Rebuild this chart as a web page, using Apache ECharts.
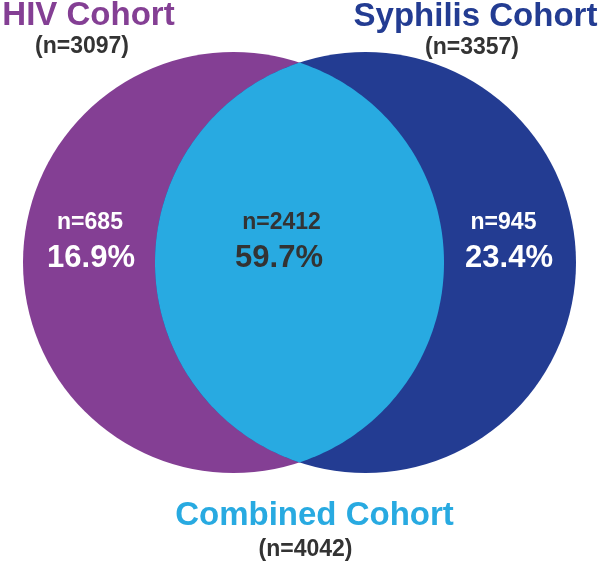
<!DOCTYPE html>
<html>
<head>
<meta charset="utf-8">
<script src="https://cdn.jsdelivr.net/npm/echarts@6/dist/echarts.min.js"></script>
<style>html,body{margin:0;padding:0;background:#fff}#c{width:600px;height:564px}</style>
</head>
<body>
<div id="c"></div>
<script>
// ---- data ----
const cohortNames = ['HIV Cohort', 'Syphilis Cohort', 'Combined Cohort'];
const cohortTotals = [3097, 3357, 4042];
const regionNames = ['HIV only', 'Both', 'Syphilis only'];
const regionCounts = [685, 2412, 945];
const regionPercents = [16.9, 59.7, 23.4];

// ---- layout (axis units) ----
const circleCenters = [[233.5, 262.5], [365.5, 262.5]];
const circleRadius = 210.5;

const FONT = '"Liberation Sans", Arial, Helvetica, sans-serif';
const colors = { hiv: '#843F94', syph: '#233C92', both: '#28AAE1', dark: '#333333' };

const chart = echarts.init(document.getElementById('c'), null, { renderer: 'canvas' });

function circleItem(params, api) {
  const c = api.coord([api.value(0), api.value(1)]);
  const r = api.size([api.value(2), 0])[0];
  return {
    type: 'circle',
    shape: { cx: c[0], cy: c[1], r: r },
    style: { fill: params.dataIndex === 0 ? colors.hiv : colors.syph }
  };
}

function lensItem(params, api) {
  const a = api.coord(circleCenters[0]);
  const b = api.coord(circleCenters[1]);
  const r = api.size([circleRadius, 0])[0];
  const dx = b[0] - a[0], dy = b[1] - a[1];
  const d = Math.sqrt(dx * dx + dy * dy);
  const half = Math.sqrt(r * r - (d / 2) * (d / 2));
  const alpha = Math.acos((d / 2) / r);
  const base = Math.atan2(dy, dx);
  const pts = [];
  const N = 120;
  // arc of circle A (right boundary of lens)
  for (let i = 0; i <= N; i++) {
    const t = base - alpha + (2 * alpha) * i / N;
    pts.push([a[0] + r * Math.cos(t), a[1] + r * Math.sin(t)]);
  }
  // arc of circle B (left boundary of lens)
  for (let i = 0; i <= N; i++) {
    const t = base + Math.PI - alpha + (2 * alpha) * i / N;
    pts.push([b[0] + r * Math.cos(t), b[1] + r * Math.sin(t)]);
  }
  return { type: 'polygon', shape: { points: pts }, style: { fill: colors.both } };
}

function txt(text, x, y, size, fill) {
  return {
    type: 'text', x: x, y: y, silent: true, z: 100,
    style: { text: text, fill: fill, font: 'bold ' + size + 'px ' + FONT, textAlign: 'center', textVerticalAlign: 'middle' }
  };
}

const graphics = [
  txt(cohortNames[0], 88.5, 15.5, 33, colors.hiv),
  txt('(n=' + cohortTotals[0] + ')', 82, 47, 23, colors.dark),
  txt(cohortNames[1], 475.5, 16.5, 33, colors.syph),
  txt('(n=' + cohortTotals[1] + ')', 472, 48, 23, colors.dark),
  txt(cohortNames[2], 314.5, 516, 33, colors.both),
  txt('(n=' + cohortTotals[2] + ')', 305.5, 550, 23, colors.dark),
  txt('n=' + regionCounts[0], 90, 222.5, 23, '#ffffff'),
  txt(regionPercents[0].toFixed(1) + '%', 91, 258, 31, '#ffffff'),
  txt('n=' + regionCounts[1], 281.5, 222.5, 23, colors.dark),
  txt(regionPercents[1].toFixed(1) + '%', 279, 258, 31, colors.dark),
  txt('n=' + regionCounts[2], 503.5, 222.5, 23, '#ffffff'),
  txt(regionPercents[2].toFixed(1) + '%', 509, 258, 31, '#ffffff')
];

chart.setOption({
  animation: false,
  backgroundColor: '#ffffff',
  grid: { left: 0, right: 0, top: 0, bottom: 0 },
  xAxis: { type: 'value', min: 0, max: 600, show: false },
  yAxis: { type: 'value', min: 0, max: 564, inverse: true, show: false },
  series: [
    {
      type: 'custom', name: 'cohorts', coordinateSystem: 'cartesian2d',
      data: circleCenters.map((c, i) => [c[0], c[1], circleRadius, cohortTotals[i]]),
      renderItem: circleItem, silent: true, z: 1
    },
    {
      type: 'custom', name: 'overlap', coordinateSystem: 'cartesian2d',
      data: [[circleCenters[0][0], circleCenters[0][1], regionCounts[1]]],
      renderItem: lensItem, silent: true, z: 2
    }
  ],
  graphic: graphics
});
</script>
</body>
</html>
